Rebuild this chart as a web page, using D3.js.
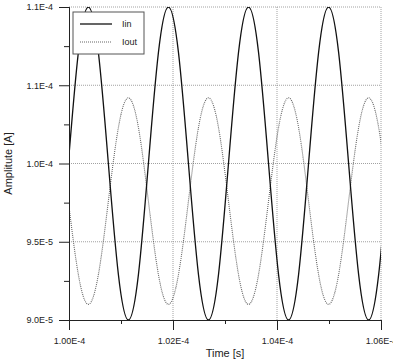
<!DOCTYPE html>
<html>
  <head>
    <title>Iin / Iout vs Time</title>
    <meta charset="UTF-8">
    <style>
      body { margin: 0; background: #fff; }
      svg { display: block; font-family: "Liberation Sans", Arial, sans-serif; }
    </style>
  </head>
  <body>

    <svg></svg>

    <script src="https://d3js.org/d3.v7.min.js"></script>
    <script>

/* DATA (time in microseconds, current in microamps) */
var timeUs = [
  99.987, 100.180, 100.372, 100.565, 100.757, 100.950, 101.142, 101.335,
  101.527, 101.720, 101.912, 102.105, 102.297, 102.490, 102.682, 102.875,
  103.067, 103.260, 103.452, 103.645, 103.837, 104.030, 104.222, 104.415,
  104.607, 104.800, 104.992, 105.185, 105.377, 105.570, 105.762, 105.955,
  106.147
];
var iinUA = [
  100.0, 107.1, 110.0, 107.1, 100.0, 92.9, 90.0, 92.9,
  100.0, 107.1, 110.0, 107.1, 100.0, 92.9, 90.0, 92.9,
  100.0, 107.1, 110.0, 107.1, 100.0, 92.9, 90.0, 92.9,
  100.0, 107.1, 110.0, 107.1, 100.0, 92.9, 90.0, 92.9,
  100.0
];
var ioutUA = [
  97.6, 92.9, 91.0, 92.9, 97.6, 102.3, 104.2, 102.3,
  97.6, 92.9, 91.0, 92.9, 97.6, 102.3, 104.2, 102.3,
  97.6, 92.9, 91.0, 92.9, 97.6, 102.3, 104.2, 102.3,
  97.6, 92.9, 91.0, 92.9, 97.6, 102.3, 104.2, 102.3,
  97.6
];

var xTicks = [100, 102, 104, 106];
var xTickLabels = ["1.00E-4", "1.02E-4", "1.04E-4", "1.06E-4"];
var xMinor = [101, 103, 105];
var yTicks = [90, 95, 100, 105, 110];
var yTickLabels = ["9.0E-5", "9.5E-5", "1.0E-4", "1.1E-4", "1.1E-4"];
var yMinor = [92.5, 97.5, 102.5, 107.5];
var seriesNames = ["Iin", "Iout"];

var config = {
  "width": 393,
  "height": 360,
  "margin": { "top": 7, "right": 12, "bottom": 40, "left": 69 }
};

var svg = d3.select("svg")
  .attr("width", config.width)
  .attr("height", config.height);

var margin = config.margin,
    width = config.width - margin.left - margin.right,
    height = config.height - margin.top - margin.bottom,
    g = svg.append("g")
      .attr("transform", "translate(" + margin.left + "," + margin.top + ")");

var x = d3.scaleLinear().domain([100, 106]).range([0, width]);
var y = d3.scaleLinear().domain([90, 110]).range([height, 0]);

// clip so the lines stop at the plot frame
svg.append("defs").append("clipPath").attr("id", "plotclip")
  .append("rect").attr("width", width).attr("height", height);

// dotted grid
g.append("g").selectAll("line")
  .data(xTicks.slice(1))
  .enter().append("line")
    .attr("x1", function(d) { return x(d); })
    .attr("x2", function(d) { return x(d); })
    .attr("y1", 0).attr("y2", height)
    .attr("stroke", "#8a8a8a").attr("stroke-width", 0.8)
    .attr("stroke-dasharray", "1,1");

g.append("g").selectAll("line")
  .data(yTicks.slice(1))
  .enter().append("line")
    .attr("y1", function(d) { return y(d); })
    .attr("y2", function(d) { return y(d); })
    .attr("x1", 0).attr("x2", width)
    .attr("stroke", "#8a8a8a").attr("stroke-width", 0.8)
    .attr("stroke-dasharray", "1,1");

// lines
var pts = function(vals) {
  return timeUs.map(function(t, i) { return [t, vals[i]]; });
};
var line = d3.line()
  .x(function(d) { return x(d[0]); })
  .y(function(d) { return y(d[1]); })
  .curve(d3.curveNatural);

var plot = g.append("g").attr("clip-path", "url(#plotclip)");

plot.append("path")
  .datum(pts(ioutUA))
  .attr("fill", "none")
  .attr("stroke", "#666")
  .attr("stroke-width", 1.1)
  .attr("stroke-dasharray", "1,1")
  .attr("d", line);

plot.append("path")
  .datum(pts(iinUA))
  .attr("fill", "none")
  .attr("stroke", "#111")
  .attr("stroke-width", 1.3)
  .attr("d", line);

// axes
var xAxis = d3.axisBottom(x)
  .tickValues(xTicks)
  .tickSize(10)
  .tickPadding(8)
  .tickFormat(function(d, i) { return xTickLabels[i]; });
var xAxisMinor = d3.axisBottom(x).tickValues(xMinor).tickSize(4).tickFormat("");

var yAxis = d3.axisLeft(y)
  .tickValues(yTicks)
  .tickSize(10)
  .tickPadding(6)
  .tickFormat(function(d, i) { return yTickLabels[i]; });
var yAxisMinor = d3.axisLeft(y).tickValues(yMinor).tickSize(5).tickFormat("");

[xAxis, xAxisMinor].forEach(function(a) {
  g.append("g").attr("class", "axis")
    .attr("transform", "translate(0," + height + ")")
    .call(a);
});
[yAxis, yAxisMinor].forEach(function(a) {
  g.append("g").attr("class", "axis").call(a);
});

g.selectAll(".axis .domain").attr("stroke", "#222").attr("stroke-width", 1);
g.selectAll(".axis .tick line").attr("stroke", "#222");
g.selectAll(".axis text")
  .attr("font-family", "Liberation Sans, Arial, sans-serif")
  .attr("font-size", 9)
  .attr("fill", "#222");

// axis titles
g.append("text")
  .attr("x", width / 2)
  .attr("y", height + 37)
  .attr("text-anchor", "middle")
  .attr("font-size", 11)
  .attr("fill", "#222")
  .text("Time [s]");

g.append("text")
  .attr("transform", "translate(" + (-57) + "," + (height / 2) + ") rotate(-90)")
  .attr("text-anchor", "middle")
  .attr("font-size", 11)
  .attr("fill", "#222")
  .text("Amplitute [A]");

// legend
var legend = g.append("g").attr("transform", "translate(4,5)");

legend.append("rect")
  .attr("width", 71)
  .attr("height", 42)
  .attr("fill", "#fff")
  .attr("stroke", "#555")
  .attr("stroke-width", 1);

var item = legend.selectAll(".item")
  .data(seriesNames)
  .enter().append("g")
    .attr("class", "item")
    .attr("transform", function(d, i) { return "translate(0," + (12 + i * 18) + ")"; });

item.append("line")
  .attr("x1", 7).attr("x2", 39)
  .attr("stroke", function(d, i) { return i == 0 ? "#111" : "#666"; })
  .attr("stroke-width", function(d, i) { return i == 0 ? 1.3 : 1.1; })
  .attr("stroke-dasharray", function(d, i) { return i == 0 ? null : "1,1"; });

item.append("text")
  .attr("x", 49)
  .attr("dy", "0.35em")
  .attr("font-size", 9)
  .attr("fill", "#222")
  .text(function(d) { return d; });

    </script>
  </body>
</html>
